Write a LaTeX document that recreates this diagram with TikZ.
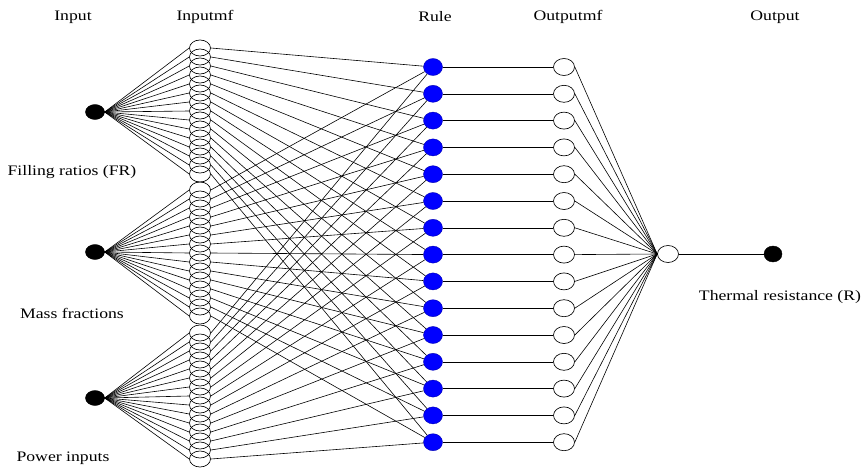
\documentclass[tikz,border=0pt]{standalone}
\usepackage{fontspec}
\setmainfont[FakeStretch=1.22]{Liberation Serif}
\usetikzlibrary{shapes.geometric}
\begin{document}
\begin{tikzpicture}[x=1pt,y=-1pt,
  lbl/.style={font=\fontsize{14.5}{16}\selectfont, inner sep=0pt},
  inp/.style={ellipse, fill=black, draw=black, minimum width=19pt, minimum height=15pt, inner sep=0pt},
  mfnode/.style={ellipse, draw=black, line width=0.65pt, minimum width=21pt, minimum height=16pt, inner sep=0pt},
  rulenode/.style={ellipse, fill=blue, draw=blue!70!black, minimum width=19pt, minimum height=17pt, inner sep=0pt},
  omf/.style={ellipse, draw=black, fill=white, line width=0.65pt, minimum width=21pt, minimum height=17pt, inner sep=0pt},
  wire/.style={line width=0.6pt, draw=black}]
\useasboundingbox (0,0) rectangle (865,471);
\fill[white] (0,0) rectangle (865,471);
% headers
\node[lbl] (hin) at (73,17) {Input};
\node[lbl] (hmf) at (205,17) {Inputmf};
\node[lbl] (hrule) at (435,17) {Rule};
\node[lbl] (hom) at (568,17) {Outputmf};
\node[lbl] (hout) at (775,17) {Output};
% inputs
\node[inp] (in1) at (95,112) {};
\node[inp] (in2) at (95,252) {};
\node[inp] (in3) at (95,398) {};
\node[lbl] (l1) at (72,172) {Filling ratios (FR)};
\node[lbl] (l2) at (72,313) {Mass fractions};
\node[lbl] (l3) at (63,458) {Power inputs};
% input mfs
\foreach \i in {1,...,15} {
  \node[mfnode] (mfa\i) at (200,{48+9*(\i-1)}) {};
  \node[mfnode] (mfb\i) at (200,{190+9*(\i-1)}) {};
  \node[mfnode] (mfc\i) at (200,{333+9*(\i-1)}) {};
}
% rules and output mfs
\foreach \i in {1,...,15} {
  \node[rulenode] (r\i) at (433,{67+26.8*(\i-1)}) {};
  \node[omf] (om\i) at (564,{67+26.8*(\i-1)}) {};
}
\node[omf] (agg) at (668,254) {};
\node[inp, minimum width=18pt, minimum height=16pt] (out) at (773,254) {};
\node[lbl] (lout) at (780,297) {Thermal resistance (R)};
% wires
\foreach \i in {1,...,15} {
  \draw[wire] (in1.east) -- (mfa\i.west);
  \draw[wire] (in2.east) -- (mfb\i.west);
  \draw[wire] (in3.east) -- (mfc\i.west);
  \draw[wire] (mfa\i.east) -- (r\i);
  \draw[wire] (mfb\i.east) -- (r\i);
  \draw[wire] (mfc\i.east) -- (r\i);
  \draw[wire] (r\i) -- (om\i);
  \draw[wire] (om\i.east) -- (agg.west);
}
\draw[wire] (agg) -- (out);
\end{tikzpicture}
\end{document}
